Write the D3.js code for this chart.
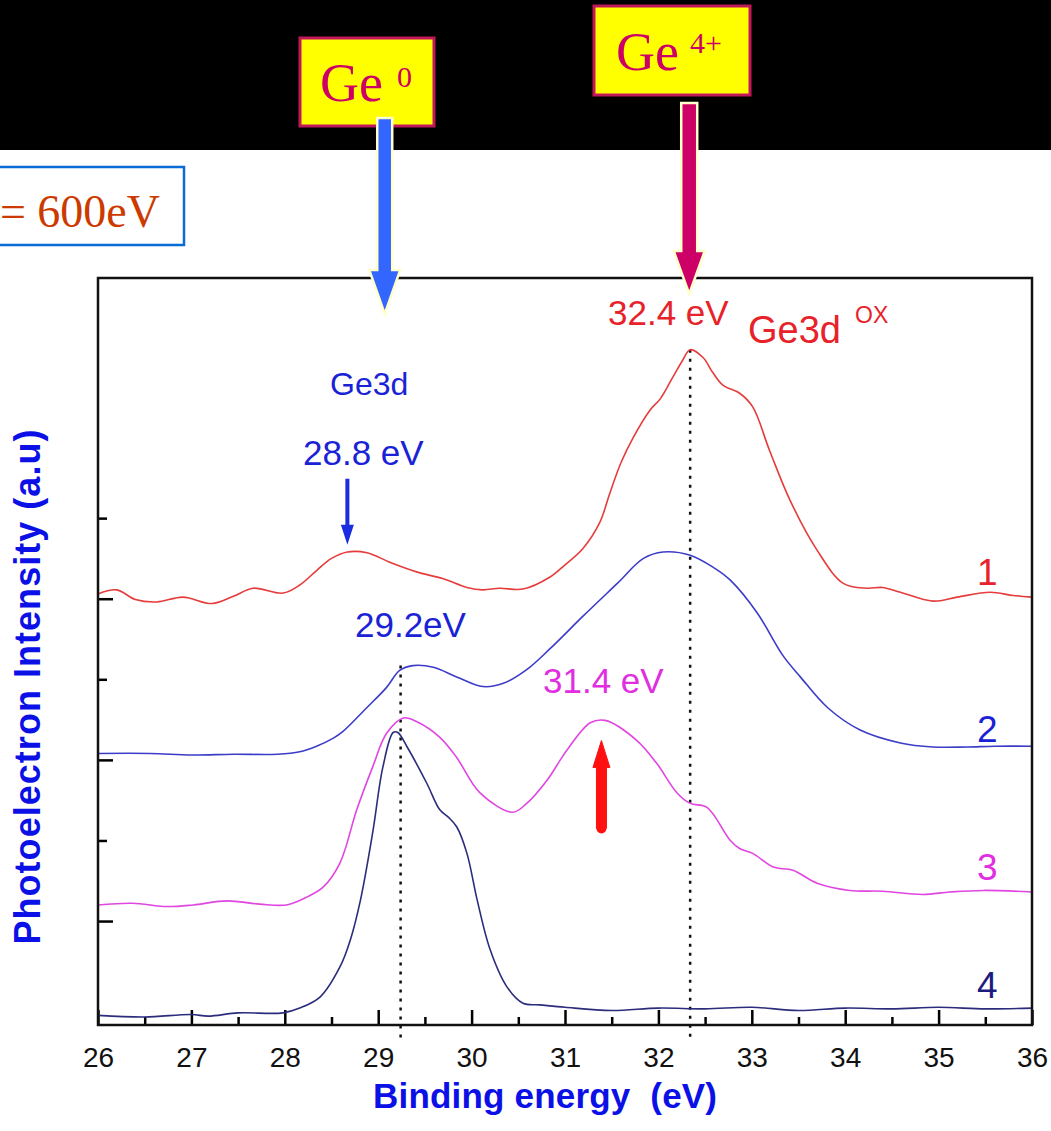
<!DOCTYPE html>
<html>
<head>
<meta charset="utf-8">
<script src="https://cdn.jsdelivr.net/npm/d3@7"></script>
<style>
  body { margin: 0; background: #fff; }
  svg { display: block; }
</style>
</head>
<body>
<div id="chart"></div>
<script>
// spectra: binding energy (eV) and intensity (a.u.)
var e1 = [26.0, 26.2, 26.4, 26.63, 26.91, 27.22, 27.45, 27.66, 27.98, 28.16, 28.34, 28.5, 28.67, 28.88, 29.13, 29.42, 29.69, 29.95, 30.12, 30.3, 30.55, 30.84, 31.0, 31.19, 31.37, 31.48, 31.6, 31.73, 31.91, 32.02, 32.15, 32.26, 32.34, 32.48, 32.58, 32.69, 32.87, 33.01, 33.19, 33.41, 33.7, 33.98, 34.23, 34.4, 34.59, 34.94, 35.2, 35.55, 35.8, 36.0];
var i1 = [5.06, 5.11, 4.99, 4.96, 5.02, 4.94, 5.03, 5.13, 5.07, 5.17, 5.35, 5.5, 5.58, 5.57, 5.45, 5.33, 5.25, 5.14, 5.11, 5.13, 5.12, 5.27, 5.42, 5.62, 5.94, 6.31, 6.69, 7.0, 7.34, 7.48, 7.74, 7.96, 8.09, 7.99, 7.81, 7.65, 7.55, 7.38, 6.84, 6.22, 5.6, 5.19, 5.13, 5.14, 5.08, 4.97, 5.02, 5.08, 5.04, 5.02];

var e2 = [26.0, 26.56, 27.0, 27.45, 27.92, 28.16, 28.34, 28.52, 28.62, 28.88, 29.09, 29.23, 29.37, 29.59, 29.84, 30.12, 30.34, 30.59, 30.84, 31.19, 31.56, 31.84, 32.05, 32.34, 32.6, 32.77, 33.06, 33.33, 33.52, 33.81, 34.16, 34.59, 34.94, 35.3, 35.6, 36.0];
var i2 = [3.08, 3.08, 3.06, 3.07, 3.07, 3.1, 3.17, 3.27, 3.35, 3.65, 3.9, 4.11, 4.17, 4.15, 4.03, 3.91, 3.95, 4.12, 4.38, 4.78, 5.19, 5.5, 5.58, 5.54, 5.38, 5.23, 4.82, 4.3, 4.03, 3.65, 3.37, 3.21, 3.16, 3.16, 3.17, 3.17];

var e3 = [26.0, 26.37, 26.74, 27.02, 27.38, 27.73, 28.02, 28.24, 28.41, 28.59, 28.77, 28.94, 29.09, 29.27, 29.42, 29.66, 29.84, 30.09, 30.44, 30.59, 30.81, 30.95, 31.02, 31.27, 31.43, 31.77, 31.98, 32.2, 32.34, 32.52, 32.77, 32.87, 33.01, 33.23, 33.44, 33.7, 34.05, 34.4, 34.83, 35.12, 35.48, 36.0];
var i3 = [1.2, 1.22, 1.18, 1.2, 1.25, 1.21, 1.2, 1.3, 1.42, 1.72, 2.38, 2.91, 3.33, 3.52, 3.47, 3.28, 3.03, 2.59, 2.35, 2.46, 2.75, 3.0, 3.12, 3.46, 3.49, 3.24, 2.96, 2.59, 2.46, 2.41, 2.0, 1.9, 1.84, 1.67, 1.63, 1.47, 1.38, 1.37, 1.33, 1.36, 1.38, 1.36];

var e4 = [26.0, 26.5, 27.0, 27.18, 27.5, 27.98, 28.16, 28.38, 28.59, 28.7, 28.81, 28.94, 29.05, 29.16, 29.21, 29.31, 29.52, 29.66, 29.75, 29.84, 29.95, 30.06, 30.2, 30.38, 30.55, 30.73, 31.0, 31.5, 32.0, 32.5, 33.0, 33.5, 34.0, 34.5, 35.0, 35.5, 36.0];
var i4 = [-0.17, -0.19, -0.16, -0.18, -0.14, -0.14, -0.08, 0.06, 0.43, 0.76, 1.26, 2.09, 2.91, 3.34, 3.34, 3.16, 2.71, 2.38, 2.29, 2.17, 1.84, 1.26, 0.64, 0.18, -0.02, -0.04, -0.07, -0.11, -0.08, -0.09, -0.07, -0.11, -0.08, -0.09, -0.07, -0.09, -0.08];

var xMajor = [26, 27, 28, 29, 30, 31, 32, 33, 34, 35, 36];
var xMinor = [26.5, 27.5, 28.5, 29.5, 30.5, 31.5, 32.5, 33.5, 34.5, 35.5];
var yMajor = [1, 3, 5];
var yMinor = [2, 4, 6];

var curveNames = ["1", "2", "3", "4"];
var peakEnergies = [29.24, 32.34];
var peakTops = [4.17, 8.09];

var svgWidth = 1051;
var svgHeight = 1131;
var margin = { top: 278, right: 19, bottom: 106, left: 98 };
var width = svgWidth - margin.left - margin.right;
var height = svgHeight - margin.top - margin.bottom;

var svg = d3.select("#chart").append("svg")
  .attr("width", svgWidth)
  .attr("height", svgHeight)
  .style("font-family", "'Liberation Sans', Arial, sans-serif");

// black banner at the top
svg.append("rect")
  .attr("x", 0).attr("y", 0)
  .attr("width", svgWidth).attr("height", 150)
  .attr("fill", "#000");

var chart = svg.append("g")
  .attr("transform", `translate(${margin.left}, ${margin.top})`);

var x = d3.scaleLinear().domain([26, 36]).range([0, width]);
var y = d3.scaleLinear().domain([-0.29, 8.98]).range([height, 0]);

// axes, ticks point inward
var xAxis = chart.append("g")
  .attr("transform", `translate(0, ${height})`)
  .call(d3.axisBottom(x).tickValues(xMajor).tickSize(-15).tickPadding(22).tickFormat(d3.format("d")));
xAxis.select(".domain").remove();
xAxis.selectAll("line").attr("stroke-width", 2.5);
xAxis.selectAll("text").attr("font-size", 28).attr("fill", "#111")
  .style("font-family", "'Liberation Sans', Arial, sans-serif");

var xAxisMinor = chart.append("g")
  .attr("transform", `translate(0, ${height})`)
  .call(d3.axisBottom(x).tickValues(xMinor).tickSize(-8).tickFormat(""));
xAxisMinor.select(".domain").remove();
xAxisMinor.selectAll("line").attr("stroke-width", 2.5);

var yAxis = chart.append("g")
  .call(d3.axisLeft(y).tickValues(yMajor).tickSize(-15).tickFormat(""));
yAxis.select(".domain").remove();
yAxis.selectAll("line").attr("stroke-width", 2.5);

var yAxisMinor = chart.append("g")
  .call(d3.axisLeft(y).tickValues(yMinor).tickSize(-9).tickFormat(""));
yAxisMinor.select(".domain").remove();
yAxisMinor.selectAll("line").attr("stroke-width", 2.5);

// dotted peak markers
chart.selectAll(".peakLine")
  .data(peakEnergies)
  .enter().append("line")
  .attr("class", "peakLine")
  .attr("x1", function(d) { return x(d); })
  .attr("x2", function(d) { return x(d); })
  .attr("y1", function(d, i) { return y(peakTops[i]); })
  .attr("y2", height + 17)
  .attr("stroke", "#111")
  .attr("stroke-width", 2.5)
  .attr("stroke-dasharray", "3,6");

// spectra
var series = [
  { e: e1, v: i1, color: "#e63c3c" },
  { e: e2, v: i2, color: "#3c3cc8" },
  { e: e3, v: i3, color: "#e046e0" },
  { e: e4, v: i4, color: "#2c2c7c" }
];

var line = d3.line()
  .x(function(d) { return x(d[0]); })
  .y(function(d) { return y(d[1]); })
  .curve(d3.curveCatmullRom.alpha(0.5));

chart.selectAll(".spectrum")
  .data(series)
  .enter().append("path")
  .attr("class", "spectrum")
  .attr("fill", "none")
  .attr("stroke", function(d) { return d.color; })
  .attr("stroke-width", 1.6)
  .attr("d", function(d) { return line(d3.zip(d.e, d.v)); });

// frame
chart.append("rect")
  .attr("width", width).attr("height", height)
  .attr("fill", "none")
  .attr("stroke", "#111")
  .attr("stroke-width", 2.5);

// arrow helper: vertical arrow from y0 (tail) to y1 (tip)
function arrowPath(cx, y0, y1, shaftW, headW, headL) {
  var dir = y1 > y0 ? 1 : -1;
  var yb = y1 - dir * headL;
  return "M" + (cx - shaftW / 2) + "," + y0 +
    "L" + (cx - shaftW / 2) + "," + yb +
    "L" + (cx - headW / 2) + "," + yb +
    "L" + cx + "," + y1 +
    "L" + (cx + headW / 2) + "," + yb +
    "L" + (cx + shaftW / 2) + "," + yb +
    "L" + (cx + shaftW / 2) + "," + y0 + "Z";
}

// small arrows inside the plot
chart.append("path")
  .attr("d", arrowPath(x(28.67), y(6.49), y(5.67), 4, 13, 20))
  .attr("fill", "#1a2ee0");
chart.append("path")
  .attr("d", arrowPath(x(31.39), y(2.15), y(3.24), 10, 17, 27))
  .attr("fill", "#ff1010")
  .attr("stroke", "#ff1010").attr("stroke-width", 1).attr("stroke-linejoin", "round");
chart.append("circle")
  .attr("cx", x(31.39)).attr("cy", y(2.15)).attr("r", 5)
  .attr("fill", "#ff1010");

// text labels in the plot
var labels = [
  { t: "Ge3d", px: 330, py: 395, size: 32, color: "#1a22d6" },
  { t: "28.8 eV", px: 303, py: 465, size: 35, color: "#1a22d6" },
  { t: "29.2eV", px: 355, py: 637, size: 35, color: "#1a22d6" },
  { t: "31.4 eV", px: 543, py: 693, size: 35, color: "#e02ee0" },
  { t: "32.4 eV", px: 608, py: 325, size: 35, color: "#e8222a" },
  { t: "Ge3d", px: 748, py: 343, size: 38, color: "#e8222a" },
  { t: "OX", px: 855, py: 323, size: 23, color: "#e8222a" }
];
svg.selectAll(".lbl")
  .data(labels)
  .enter().append("text")
  .attr("class", "lbl")
  .attr("x", function(d) { return d.px; })
  .attr("y", function(d) { return d.py; })
  .attr("font-size", function(d) { return d.size; })
  .attr("fill", function(d) { return d.color; })
  .text(function(d) { return d.t; });

var nameY = [585, 742, 880, 998];
var nameColors = ["#e8222a", "#1a22d6", "#e02ee0", "#1c1c80"];
svg.selectAll(".curveName")
  .data(curveNames)
  .enter().append("text")
  .attr("class", "curveName")
  .attr("x", 977)
  .attr("y", function(d, i) { return nameY[i]; })
  .attr("font-size", 37)
  .attr("fill", function(d, i) { return nameColors[i]; })
  .text(function(d) { return d; });

// axis titles
svg.append("text")
  .attr("x", 545).attr("y", 1108)
  .attr("text-anchor", "middle")
  .attr("font-size", 35)
  .attr("font-weight", "bold")
  .attr("fill", "#0a10e6")
  .attr("textLength", 344)
  .style("white-space", "pre")
  .text("Binding energy  (eV)");

svg.append("text")
  .attr("transform", "translate(40, 687) rotate(-90)")
  .attr("text-anchor", "middle")
  .attr("font-size", 36)
  .attr("font-weight", "bold")
  .attr("fill", "#0a10e6")
  .attr("textLength", 515)
  .text("Photoelectron Intensity (a.u)");

// photon energy box (its left part is cut by the page edge, as in the source)
svg.append("rect")
  .attr("x", -4).attr("y", 167)
  .attr("width", 188).attr("height", 78)
  .attr("fill", "#fff")
  .attr("stroke", "#0a6ad6").attr("stroke-width", 2.5);
svg.append("text")
  .attr("x", 160).attr("y", 227)
  .attr("text-anchor", "end")
  .attr("font-family", "'Liberation Serif', 'Times New Roman', serif")
  .attr("font-size", 46)
  .attr("fill", "#cc3a00")
  .text("h\u03bd = 600eV");

// Ge oxidation state boxes with arrows down to the spectra
var boxes = [
  { base: "Ge", sup: "0", bx: 300, by: 38, bw: 134, bh: 88, tx: 320, ty: 101, sx: 397, sy: 87 },
  { base: "Ge", sup: "4+", bx: 594, by: 6, bw: 156, bh: 89, tx: 616, ty: 70, sx: 690, sy: 53 }
];
var bg = svg.selectAll(".stateBox")
  .data(boxes)
  .enter().append("g")
  .attr("class", "stateBox");
bg.append("rect")
  .attr("x", function(d) { return d.bx; })
  .attr("y", function(d) { return d.by; })
  .attr("width", function(d) { return d.bw; })
  .attr("height", function(d) { return d.bh; })
  .attr("fill", "#ffff00")
  .attr("stroke", "#c0185a")
  .attr("stroke-width", 3);
bg.append("text")
  .attr("x", function(d) { return d.tx; })
  .attr("y", function(d) { return d.ty; })
  .attr("font-family", "'Liberation Serif', 'Times New Roman', serif")
  .attr("font-size", 54)
  .attr("fill", "#cc0066")
  .text(function(d) { return d.base; });
bg.append("text")
  .attr("x", function(d) { return d.sx; })
  .attr("y", function(d) { return d.sy; })
  .attr("font-family", "'Liberation Serif', 'Times New Roman', serif")
  .attr("font-size", 30)
  .attr("fill", "#cc0066")
  .text(function(d) { return d.sup; });

svg.append("path")
  .attr("d", arrowPath(margin.left + x(29.07), 118, 314, 15, 31, 44))
  .attr("fill", "#3366ff")
  .attr("stroke", "#ffffcc").attr("stroke-width", 2.5);
svg.append("path")
  .attr("d", arrowPath(margin.left + x(32.33), 103, 294, 16, 31, 43))
  .attr("fill", "#cc0066")
  .attr("stroke", "#ffffcc").attr("stroke-width", 2.5);
</script>
</body>
</html>
